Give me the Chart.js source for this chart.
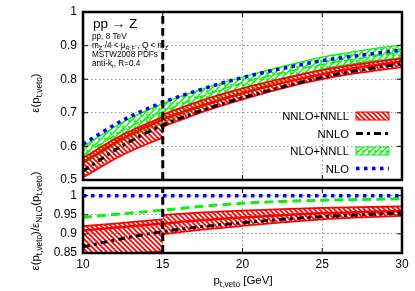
<!DOCTYPE html>
<html><head><meta charset="utf-8">
<script src="https://cdn.jsdelivr.net/npm/chart.js@4/dist/chart.umd.min.js"></script>
<style>
html,body{margin:0;padding:0;background:#fff;}
#wrap{position:relative;width:415px;height:291px;}
canvas{position:absolute;left:0;top:0;}
</style></head><body>
<div id="wrap"><canvas id="topc" width="415" height="291"></canvas><canvas id="botc" width="415" height="291"></canvas></div>
<script>
// ---------- data ----------
const xTicks = [10, 15, 20, 25, 30];
const xAll = [10, 12.5, 15, 17.5, 20, 22.5, 25, 27.5, 30];
const xLeft = [10, 12.5, 15];
const xRight = [15, 17.5, 20, 22.5, 25, 27.5, 30];
const vetoRef = 15;
const seriesNames = ['NNLO+NNLL', 'NNLO', 'NLO+NNLL', 'NLO'];

// top panel: efficiency
const nloTop       = [0.607, 0.678, 0.731, 0.771, 0.805, 0.832, 0.855, 0.872, 0.887];
const nnloTop      = [0.527, 0.603, 0.663, 0.708, 0.745, 0.777, 0.806, 0.828, 0.846];
const nloNnllTop   = [0.573, 0.647, 0.703, 0.750, 0.789, 0.819, 0.844, 0.863, 0.880];
const nloNnllTopHi = [0.600, 0.672, 0.728, 0.771, 0.806, 0.838, 0.866, 0.886, 0.902];
const nloNnllTopLo = [0.548, 0.617, 0.670, 0.718, 0.757, 0.797, 0.830, 0.850, 0.864];
const nnloNnllTop  = [0.552, 0.624, 0.680, 0.722, 0.758, 0.789, 0.815, 0.836, 0.853];
const nnloNnllTopLeftHi  = [0.566, 0.635, 0.688];
const nnloNnllTopLeftLo  = [0.508, 0.575, 0.627];
const nnloNnllTopRightHi = [0.695, 0.738, 0.773, 0.802, 0.827, 0.846, 0.862];
const nnloNnllTopRightLo = [0.658, 0.703, 0.740, 0.773, 0.800, 0.820, 0.836];

// bottom panel: ratio to NLO
const nloRatio      = [1, 1, 1, 1, 1, 1, 1, 1, 1];
const nloNnllRatio  = [0.943, 0.953, 0.962, 0.972, 0.980, 0.985, 0.988, 0.990, 0.992];
const nnloRatio     = [0.866, 0.888, 0.906, 0.919, 0.929, 0.938, 0.945, 0.950, 0.955];
const nnloNnllRatio = [0.909, 0.918, 0.927, 0.936, 0.943, 0.949, 0.954, 0.957, 0.960];
const nnloNnllRatioLeftHi  = [0.920, 0.929, 0.938];
const nnloNnllRatioLeftLo  = [0.842, 0.848, 0.854];
const nnloNnllRatioRightHi = [0.949, 0.956, 0.961, 0.965, 0.968, 0.970, 0.972];
const nnloNnllRatioRightLo = [0.899, 0.911, 0.921, 0.930, 0.938, 0.943, 0.947];

// ---------- helpers ----------
const pts = (xs, ys) => xs.map((x, i) => ({x: x, y: ys[i]}));
const FONT = '"Liberation Sans", Arial, Helvetica, sans-serif';
const RED = '#ff0000', GREEN = '#11ee11', BLUE = '#0000ff', BLACK = '#000000';
const DASH_NNLO = [7, 4, 3, 4], DASH_NLO = [3.5, 4.5], DASH_GREEN = [9, 5], DASH_VETO = [8, 4];

function hatch(color, size, lw, both) {
  const c = document.createElement('canvas'); c.width = c.height = size;
  const g = c.getContext('2d');
  g.strokeStyle = color; g.lineWidth = lw;
  g.beginPath();
  if (!both) {
    g.moveTo(-1, -1); g.lineTo(size + 1, size + 1);
    g.moveTo(-1, size - 1); g.lineTo(1, size + 1);
    g.moveTo(size - 1, -1); g.lineTo(size + 1, 1);
  } else {
    g.moveTo(-1, size + 1); g.lineTo(size + 1, -1);
    g.moveTo(-1, 1); g.lineTo(1, -1);
    g.moveTo(size - 1, size + 1); g.lineTo(size + 1, size - 1);
    g.moveTo(size/2, 0); g.lineTo(size/2, size*0.35);
  }
  g.stroke();
  return g.createPattern(c, 'repeat');
}
const redHatch = hatch(RED, 5, 1.7, false);
const greenHatch = hatch(GREEN, 6, 1.5, true);

function drawRich(ctx, parts, x, y, size, align) {
  let w = 0;
  for (const [t, s] of parts) { ctx.font = (s ? size * 0.72 : size) + 'px ' + FONT; w += ctx.measureText(t).width; }
  let cx = align === 'right' ? x - w : (align === 'center' ? x - w / 2 : x);
  ctx.textAlign = 'left'; ctx.textBaseline = 'alphabetic';
  for (const [t, s] of parts) {
    ctx.font = (s ? size * 0.72 : size) + 'px ' + FONT;
    ctx.fillText(t, cx, s ? y + size * 0.28 : y);
    cx += ctx.measureText(t).width;
  }
}

function frameAndTicks(chart) {
  const ctx = chart.ctx, a = chart.chartArea, sx = chart.scales.x, sy = chart.scales.y;
  ctx.save();
  ctx.strokeStyle = '#000'; ctx.lineWidth = 1; ctx.setLineDash([]);
  ctx.beginPath();
  sx.ticks.forEach(t => {
    const p = sx.getPixelForValue(t.value);
    ctx.moveTo(p, a.bottom); ctx.lineTo(p, a.bottom - 5);
    ctx.moveTo(p, a.top); ctx.lineTo(p, a.top + 5);
  });
  sy.ticks.forEach(t => {
    const p = sy.getPixelForValue(t.value);
    ctx.moveTo(a.left, p); ctx.lineTo(a.left + 5, p);
    ctx.moveTo(a.right, p); ctx.lineTo(a.right - 5, p);
  });
  ctx.stroke();
  ctx.lineWidth = 2.5;
  ctx.strokeRect(a.left, a.top, a.right - a.left, a.bottom - a.top);
  ctx.restore();
}

function lineDs(data, color, width, dash, extra) {
  return Object.assign({data: data, borderColor: color, borderWidth: width, borderDash: dash || [],
    pointRadius: 0, fill: false, cubicInterpolationMode: 'monotone', borderCapStyle: 'butt'}, extra || {});
}

function baseOptions(yMin, yMax, yStep, showX, pad, xHeight) {
  return {
    responsive: false, animation: false, devicePixelRatio: 1,
    layout: {padding: pad},
    plugins: {legend: {display: false}, tooltip: {enabled: false}},
    scales: {
      x: {type: 'linear', min: 10, max: 30,
        afterFit: s => { s.height = xHeight; },
        afterBuildTicks: s => { s.ticks = xTicks.map(v => ({value: v})); },
        ticks: {display: showX, padding: 6, color: '#000', font: {family: FONT, size: 12, lineHeight: 1}},
        grid: {color: '#999', lineWidth: 1, drawTicks: false},
        border: {display: false, dash: [1.5, 2.5]}},
      y: {type: 'linear', min: yMin, max: yMax,
        afterFit: s => { s.width = 83; },
        ticks: {stepSize: yStep, padding: 6, color: '#000', font: {family: FONT, size: 12, lineHeight: 1},
          callback: v => String(Math.round(v * 100) / 100)},
        grid: {color: '#999', lineWidth: 1, drawTicks: false},
        border: {display: false, dash: [1.5, 2.5]}}
    }
  };
}

// ---------- top chart ----------
const topOpts = baseOptions(0.5, 1, 0.1, false, {top: 6, bottom: 111, left: 0, right: 13}, 0);
new Chart(document.getElementById('topc'), {
  type: 'line',
  data: {datasets: [
    lineDs(pts([vetoRef, vetoRef], [0.5, 1]), BLACK, 3, DASH_VETO),
    lineDs(pts(xAll, nloTop), BLUE, 3.5, DASH_NLO),
    lineDs(pts(xAll, nnloTop), BLACK, 3, DASH_NNLO),
    lineDs(pts(xAll, nnloNnllTop), RED, 2.5),
    lineDs(pts(xLeft, nnloNnllTopLeftHi), RED, 1.8, null, {fill: '+1', backgroundColor: redHatch}),
    lineDs(pts(xLeft, nnloNnllTopLeftLo), RED, 1.8),
    lineDs(pts(xRight, nnloNnllTopRightHi), RED, 1.8, null, {fill: '+1', backgroundColor: redHatch}),
    lineDs(pts(xRight, nnloNnllTopRightLo), RED, 1.8),
    lineDs(pts(xAll, nloNnllTop), GREEN, 1.5, DASH_GREEN),
    lineDs(pts(xAll, nloNnllTopHi), GREEN, 1.3, null, {fill: '+1', backgroundColor: greenHatch}),
    lineDs(pts(xAll, nloNnllTopLo), GREEN, 1.3)
  ]},
  options: topOpts,
  plugins: [{id: 'topDeco', afterDraw(chart) {
    frameAndTicks(chart);
    const ctx = chart.ctx;
    ctx.save();
    ctx.fillStyle = '#000';
    drawRich(ctx, [['pp \u2192 Z', 0]], 93, 28, 13.5, 'left');
    drawRich(ctx, [['pp, 8 TeV', 0]], 92, 39, 8.2, 'left');
    drawRich(ctx, [['m', 0], ['Z', 1], [' /4 < \u03bc', 0], ['R,F', 1], [' , Q < m', 0], ['Z', 1]], 92, 48, 8.2, 'left');
    drawRich(ctx, [['MSTW2008 PDFs', 0]], 92, 57, 8.2, 'left');
    drawRich(ctx, [['anti-k', 0], ['t', 1], [', R=0.4', 0]], 92, 66, 8.2, 'left');
    // y title
    ctx.save(); ctx.translate(39, 93); ctx.rotate(-Math.PI / 2);
    drawRich(ctx, [['\u03b5(p', 0], ['t,veto', 1], [')', 0]], 0, 0, 11.5, 'center');
    ctx.restore();
    // legend
    const ys = [116, 133.5, 151, 168.5];
    const x0 = 356, x1 = 389;
    seriesNames.forEach((n, i) => {
      ctx.fillStyle = '#000';
      drawRich(ctx, [[n, 0]], 349, ys[i] + 4, 11.3, 'right');
    });
    [[redHatch, RED], null, [greenHatch, GREEN], null].forEach((b, i) => {
      if (!b) return;
      ctx.fillStyle = b[0]; ctx.fillRect(x0, ys[i] - 4, x1 - x0, 8);
      ctx.strokeStyle = b[1]; ctx.lineWidth = 1; ctx.setLineDash([]);
      ctx.strokeRect(x0, ys[i] - 4, x1 - x0, 8);
    });
    ctx.lineCap = 'butt';
    ctx.strokeStyle = BLACK; ctx.lineWidth = 3; ctx.setLineDash(DASH_NNLO);
    ctx.beginPath(); ctx.moveTo(x0, ys[1]); ctx.lineTo(x1, ys[1]); ctx.stroke();
    ctx.strokeStyle = BLUE; ctx.lineWidth = 3.5; ctx.setLineDash(DASH_NLO);
    ctx.beginPath(); ctx.moveTo(x0, ys[3]); ctx.lineTo(x1, ys[3]); ctx.stroke();
    ctx.restore();
  }}]
});

// ---------- bottom chart ----------
const botOpts = baseOptions(0.85, 1.02, 0.05, true, {top: 188, bottom: 0, left: 0, right: 13}, 38);
botOpts.scales.y.afterBuildTicks = s => { s.ticks = [0.85, 0.9, 0.95, 1].map(v => ({value: v})); };
new Chart(document.getElementById('botc'), {
  type: 'line',
  data: {datasets: [
    lineDs(pts([vetoRef, vetoRef], [0.85, 1.02]), BLACK, 3, DASH_VETO),
    lineDs(pts(xAll, nloRatio), BLUE, 3.5, DASH_NLO),
    lineDs(pts(xAll, nloNnllRatio), GREEN, 3, DASH_GREEN),
    lineDs(pts(xAll, nnloRatio), BLACK, 3, DASH_NNLO),
    lineDs(pts(xAll, nnloNnllRatio), RED, 2.5),
    lineDs(pts(xLeft, nnloNnllRatioLeftHi), RED, 1.8, null, {fill: '+1', backgroundColor: redHatch}),
    lineDs(pts(xLeft, nnloNnllRatioLeftLo), RED, 1.8),
    lineDs(pts(xRight, nnloNnllRatioRightHi), RED, 1.8, null, {fill: '+1', backgroundColor: redHatch}),
    lineDs(pts(xRight, nnloNnllRatioRightLo), RED, 1.8)
  ]},
  options: botOpts,
  plugins: [{id: 'botDeco', afterDraw(chart) {
    frameAndTicks(chart);
    const ctx = chart.ctx;
    ctx.save(); ctx.fillStyle = '#000';
    ctx.save(); ctx.translate(39, 221); ctx.rotate(-Math.PI / 2);
    drawRich(ctx, [['\u03b5(p', 0], ['t,veto', 1], [')/\u03b5', 0], ['NLO', 1], ['(p', 0], ['t,veto', 1], [')', 0]], 0, 0, 11.5, 'center');
    ctx.restore();
    drawRich(ctx, [['p', 0], ['t,veto', 1], [' [GeV]', 0]], 243, 284, 11.5, 'center');
    ctx.restore();
  }}]
});
</script>
</body></html>
